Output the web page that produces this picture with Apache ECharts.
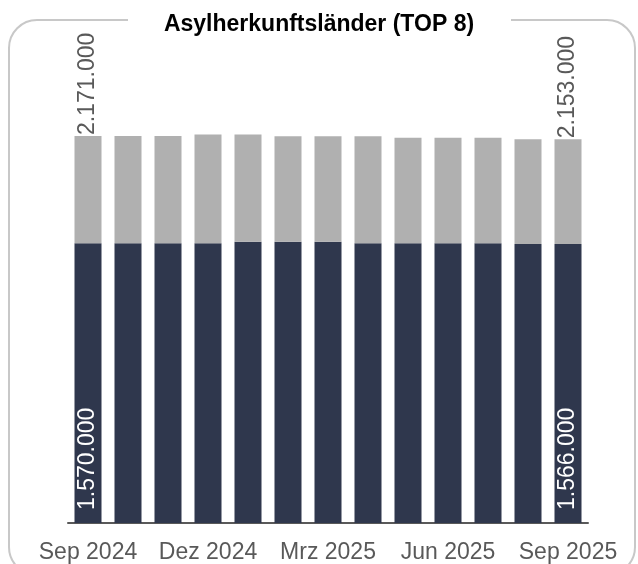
<!DOCTYPE html>
<html>
<head>
<meta charset="utf-8">
<script src="https://cdn.jsdelivr.net/npm/echarts@6/dist/echarts.min.js"></script>
<style>
html,body{margin:0;padding:0;background:#fff;}
#chart{width:638px;height:564px;}
</style>
</head>
<body>
<div id="chart"></div>
<script>
const titleText = 'Asylherkunftsländer (TOP 8)';
const categories = ['Sep 2024','Okt 2024','Nov 2024','Dez 2024','Jan 2025','Feb 2025','Mrz 2025','Apr 2025','Mai 2025','Jun 2025','Jul 2025','Aug 2025','Sep 2025'];
const top8 = [1570000,1570000,1570000,1570000,1578000,1578000,1578000,1569000,1569000,1569000,1569000,1566000,1566000];
const totals = [2171000,2171000,2171000,2180000,2180000,2170000,2170000,2170000,2162000,2162000,2162000,2153000,2153000];
const labelled = [0, 12];

const rest = totals.map((t, i) => t - top8[i]);
const fmt = v => String(v).replace(/\B(?=(\d{3})+(?!\d))/g, '.');
const FONT = "'Liberation Sans', Arial, sans-serif";

const chart = echarts.init(document.getElementById('chart'), null, {renderer: 'canvas'});

const darkData = top8.map((v, i) => labelled.includes(i) ? {
  value: v,
  label: {show: true, position: 'insideBottom', rotate: 90, align: 'left', verticalAlign: 'middle',
          distance: 13, color: '#ffffff', fontSize: 23, fontFamily: FONT, formatter: p => fmt(p.value)}
} : v);

const grayData = rest.map((v, i) => labelled.includes(i) ? {
  value: v,
  label: {show: true, position: 'top', rotate: 90, align: 'left', verticalAlign: 'middle',
          distance: 1, color: '#595959', fontSize: 23, fontFamily: FONT, formatter: p => fmt(totals[p.dataIndex])}
} : v);

chart.setOption({
  animation: false,
  backgroundColor: '#ffffff',
  title: {
    text: titleText,
    left: 'center',
    top: 8,
    textStyle: {fontSize: 23, fontWeight: 'bold', color: '#000000', fontFamily: FONT}
  },
  graphic: [
    {type: 'rect', z: 1, silent: true,
     shape: {x: 9, y: 20, width: 626, height: 555, r: 28},
     style: {fill: 'transparent', stroke: '#c8c8c8', lineWidth: 2}},
    {type: 'rect', z: 2, silent: true,
     shape: {x: 128, y: 12, width: 383, height: 16},
     style: {fill: '#ffffff'}}
  ],
  grid: {left: 68, right: 50, top: 40, bottom: 40, containLabel: false},
  xAxis: {
    type: 'category',
    data: categories,
    axisLine: {lineStyle: {color: '#595959', width: 2}},
    axisTick: {show: false},
    axisLabel: {interval: 2, color: '#595959', fontSize: 23, fontFamily: FONT, margin: 18}
  },
  yAxis: {type: 'value', show: false, min: 0, max: 2710000, splitLine: {show: false}},
  series: [
    {type: 'bar', stack: 'a', data: darkData, barWidth: 27,
     itemStyle: {color: '#2f374d'}, label: {show: false}},
    {type: 'bar', stack: 'a', data: grayData, barWidth: 27,
     itemStyle: {color: '#b0b0b0'}, label: {show: false}}
  ]
});
</script>
</body>
</html>
